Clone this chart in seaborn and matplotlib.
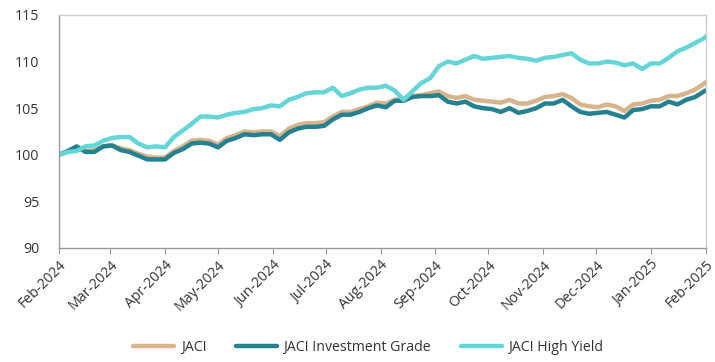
import matplotlib
matplotlib.use("Agg")
import matplotlib.pyplot as plt
import matplotlib.dates as mdates
import seaborn as sns
import pandas as pd
import numpy as np

# day offsets from 2024-02-01
days = [0, 5, 10, 15, 20, 25, 30, 35, 40, 45, 50, 55, 60, 65, 70, 75, 80, 85, 90, 95,
        100, 105, 110, 115, 120, 125, 130, 135, 140, 145, 150, 155, 160, 165, 170, 175,
        180, 185, 190, 195, 200, 205, 210, 215, 220, 225, 230, 235, 240, 245, 250, 255,
        260, 265, 270, 275, 280, 285, 290, 295, 300, 305, 310, 315, 320, 325, 330, 335,
        340, 345, 350, 355, 360, 365, 366]

jaci_hy = [100.0, 100.3, 100.4, 100.9, 101.0, 101.5, 101.8, 101.9, 101.9, 101.2,
           100.8, 100.9, 100.8, 101.9, 102.6, 103.3, 104.1, 104.1, 104.0, 104.3,
           104.5, 104.6, 104.9, 105.0, 105.3, 105.2, 105.9, 106.2, 106.6, 106.7,
           106.7, 107.2, 106.3, 106.6, 107.0, 107.2, 107.2, 107.4, 106.9, 105.9,
           106.8, 107.7, 108.2, 109.5, 110.0, 109.8, 110.2, 110.6, 110.3, 110.4,
           110.5, 110.6, 110.4, 110.3, 110.1, 110.4, 110.5, 110.7, 110.9, 110.2,
           109.8, 109.8, 110.0, 109.9, 109.6, 109.8, 109.2, 109.8, 109.8, 110.4,
           111.1, 111.5, 112.0, 112.5, 112.7]

jaci_ig = [100.0, 100.4, 100.9, 100.3, 100.3, 100.9, 101.0, 100.5, 100.3, 99.9,
           99.5, 99.5, 99.5, 100.2, 100.6, 101.2, 101.3, 101.2, 100.8, 101.5,
           101.8, 102.2, 102.1, 102.2, 102.2, 101.6, 102.4, 102.8, 103.0, 103.0,
           103.1, 103.8, 104.3, 104.3, 104.6, 105.0, 105.3, 105.1, 105.8, 105.8,
           106.2, 106.3, 106.3, 106.4, 105.7, 105.5, 105.7, 105.2, 105.0, 104.9,
           104.6, 105.0, 104.5, 104.7, 105.0, 105.5, 105.5, 105.9, 105.2, 104.6,
           104.4, 104.5, 104.6, 104.3, 104.0, 104.8, 104.9, 105.2, 105.2, 105.7,
           105.4, 105.9, 106.2, 106.8, 106.9]

jaci = [100.0, 100.3, 100.8, 100.4, 100.5, 100.9, 101.0, 100.7, 100.5, 100.1,
        99.8, 99.7, 99.7, 100.4, 100.9, 101.5, 101.6, 101.5, 101.1, 101.8,
        102.1, 102.5, 102.4, 102.5, 102.5, 102.0, 102.8, 103.2, 103.4, 103.4,
        103.5, 104.1, 104.6, 104.6, 104.9, 105.2, 105.6, 105.5, 105.9, 106.0,
        106.3, 106.4, 106.6, 106.8, 106.3, 106.1, 106.3, 105.9, 105.8, 105.7,
        105.6, 105.9, 105.5, 105.5, 105.8, 106.2, 106.3, 106.5, 106.1, 105.4,
        105.2, 105.1, 105.4, 105.2, 104.7, 105.4, 105.5, 105.8, 105.9, 106.3,
        106.3, 106.6, 107.0, 107.6, 107.8]

series_names = ["JACI", "JACI Investment Grade", "JACI High Yield"]
colors = ["#D8B48C", "#25808F", "#66D5D8"]
y_ticks = [90, 95, 100, 105, 110, 115]

start = pd.Timestamp("2024-02-01")
dates = [start + pd.Timedelta(days=d) for d in days]

df = pd.DataFrame({
    "date": dates * 3,
    "value": jaci + jaci_ig + jaci_hy,
    "series": [series_names[0]] * len(days) + [series_names[1]] * len(days) + [series_names[2]] * len(days),
})

sns.set_style("white")
plt.rcParams["font.family"] = ["Open Sans", "DejaVu Sans"]

fig = plt.figure(figsize=(7.15, 3.62), dpi=100)
ax = fig.add_axes([0.0825, 0.315, 0.9045, 0.6436])

sns.lineplot(data=df, x="date", y="value", hue="series", hue_order=series_names,
             palette=colors, linewidth=3.2, ax=ax, legend=False)

ax.set_xlim(pd.Timestamp("2024-02-01"), pd.Timestamp("2025-02-01"))
ax.set_ylim(90, 115)
ax.set_yticks(y_ticks)
ax.xaxis.set_major_locator(mdates.MonthLocator())
ax.xaxis.set_major_formatter(mdates.DateFormatter("%b-%Y"))
ax.set_xlabel("")
ax.set_ylabel("")

for lab in ax.get_xticklabels():
    lab.set_rotation(45)
    lab.set_ha("right")
    lab.set_rotation_mode("anchor")

ax.tick_params(axis="x", which="major", length=4, width=0.8, color="#999999",
               labelsize=10.2, labelcolor="#333333", pad=3, direction="out", bottom=True)
ax.tick_params(axis="y", length=0, labelsize=10.2, labelcolor="#333333", pad=14)

ax.spines["left"].set_color("#9a9a9a")
ax.spines["bottom"].set_color("#9a9a9a")
ax.spines["top"].set_color("#cccccc")
ax.spines["right"].set_color("#cccccc")
for s in ax.spines.values():
    s.set_linewidth(1.0)

handles = [plt.Line2D([0], [0], color=c, lw=3.2, solid_capstyle="round") for c in colors]
fig.legend(handles, series_names, loc="center", bbox_to_anchor=(0.515, 0.04), ncol=3,
           frameon=False, fontsize=10.2, handlelength=2.9, columnspacing=2.1,
           handletextpad=0.45, labelcolor="#333333")

fig.savefig("out.png", dpi=100)
